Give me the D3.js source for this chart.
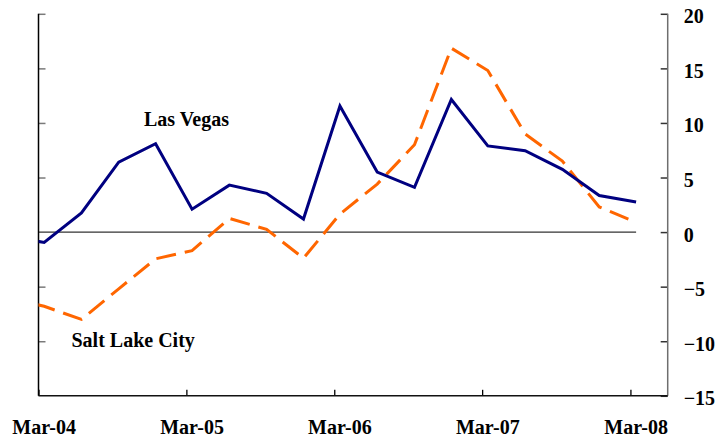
<!DOCTYPE html>
<html>
<head>
<meta charset="utf-8">
<script src="https://cdn.jsdelivr.net/npm/d3@7/dist/d3.min.js"></script>
<style>
  html, body { margin: 0; padding: 0; background: #fff; }
  svg { display: block; }
  text { font-family: "Liberation Serif", "Times New Roman", serif; font-weight: bold; fill: #000; }
</style>
</head>
<body>
<svg id="chart" width="727" height="440"></svg>
<script>
// Quarterly observations (mid-month of each quarter-end month), Dec-03 .. Mar-08
const quarters = [
  "2003-12-15",
  "2004-03-15", "2004-06-15", "2004-09-15", "2004-12-15",
  "2005-03-15", "2005-06-15", "2005-09-15", "2005-12-15",
  "2006-03-15", "2006-06-15", "2006-09-15", "2006-12-15",
  "2007-03-15", "2007-06-15", "2007-09-15", "2007-12-15",
  "2008-03-15"
];
const lasVegas = [
  -0.35,
  -0.95, 1.75, 6.4, 8.1,
  2.1, 4.3, 3.55, 1.2,
  11.55, 5.5, 4.1, 12.15,
  7.9, 7.45, 5.75, 3.35,
  2.75
];
const saltLakeCity = [
  -6.0,
  -6.8, -8.0, -5.2, -2.45,
  -1.7, 1.25, 0.25, -2.4,
  1.65, 4.4, 8.0, 16.85,
  14.8, 9.0, 6.5, 2.3,
  0.9
];
const yTicks = [20, 15, 10, 5, 0, -5, -10, -15];
const xTickDates = ["2004-03-01", "2005-03-01", "2006-03-01", "2007-03-01", "2008-03-01"];
const xLabels = ["Mar-04", "Mar-05", "Mar-06", "Mar-07", "Mar-08"];
const xLabelDates = ["2004-03-15", "2005-03-15", "2006-03-15", "2007-03-15", "2008-03-15"];

const parse = d3.timeParse("%Y-%m-%d");
const svg = d3.select("#chart");

const plotLeft = 38.5, plotRight = 667.7, plotTop = 13.8, plotBottom = 395.8;

const x = d3.scaleTime()
  .domain([parse("2004-03-01"), parse("2008-06-01")])
  .range([plotLeft, plotRight]);
const y = d3.scaleLinear()
  .domain([-15, 20])
  .range([plotBottom, plotTop]);

// Clip the series to the plotting area
svg.append("defs").append("clipPath").attr("id", "plot-clip")
  .append("rect")
  .attr("x", plotLeft).attr("y", plotTop)
  .attr("width", plotRight - plotLeft).attr("height", plotBottom - plotTop);

// Zero reference line
svg.append("line")
  .attr("x1", plotLeft).attr("x2", x(parse(quarters[quarters.length - 1])))
  .attr("y1", y(0)).attr("y2", y(0))
  .attr("stroke", "#333").attr("stroke-width", 1.2);

// Left axis: ticks only, pointing inward
const leftAxis = svg.append("g")
  .attr("transform", `translate(${plotLeft},0)`)
  .call(d3.axisLeft(y).tickValues(yTicks.filter(v => v !== 0 && v !== -15))
    .tickSize(-7).tickFormat(""));
leftAxis.select(".domain").remove();
leftAxis.selectAll(".tick line").attr("stroke", "#7a7a7a").attr("stroke-width", 1.5);
svg.append("line")
  .attr("x1", plotLeft).attr("x2", plotLeft).attr("y1", plotTop).attr("y2", plotBottom)
  .attr("stroke", "#000").attr("stroke-width", 1.5);

// Right axis with value labels
const rightAxis = svg.append("g")
  .attr("transform", `translate(${plotRight},0)`)
  .call(d3.axisRight(y).tickValues(yTicks).tickSize(-7).tickPadding(16)
    .tickFormat(d3.format("d")));
rightAxis.select(".domain").remove();
rightAxis.selectAll(".tick line").attr("stroke", "#333").attr("stroke-width", 1.5);
rightAxis.selectAll(".tick text")
  .attr("dy", "0.45em")
  .style("font-family", '"Liberation Serif", "Times New Roman", serif')
  .style("font-weight", "bold")
  .style("font-size", "20px")
  .attr("fill", "#000");
svg.append("line")
  .attr("x1", plotRight).attr("x2", plotRight).attr("y1", plotTop).attr("y2", plotBottom)
  .attr("stroke", "#6e6e6e").attr("stroke-width", 1.5);

// Bottom axis: ticks at each March, pointing up
const bottomAxis = svg.append("g")
  .attr("transform", `translate(0,${plotBottom})`)
  .call(d3.axisBottom(x).tickValues(xTickDates.map(parse)).tickSize(-6).tickFormat(""));
bottomAxis.select(".domain").remove();
bottomAxis.selectAll(".tick line").attr("stroke", "#000").attr("stroke-width", 1.3);
svg.append("line")
  .attr("x1", plotLeft).attr("x2", plotRight).attr("y1", plotBottom).attr("y2", plotBottom)
  .attr("stroke", "#111").attr("stroke-width", 1.6);

// Date labels under the axis
svg.append("g").selectAll("text")
  .data(xLabels)
  .join("text")
  .attr("x", (d, i) => x(parse(xLabelDates[i])))
  .attr("y", 433.5)
  .attr("text-anchor", "middle")
  .style("font-size", "20px")
  .text(d => d);

// Series lines
const lineFor = values => d3.line()
  .x((d, i) => x(parse(quarters[i])))
  .y(d => y(d))(values);

const plot = svg.append("g").attr("clip-path", "url(#plot-clip)");

plot.append("path")
  .attr("d", lineFor(saltLakeCity))
  .attr("fill", "none")
  .attr("stroke", "#ff6600")
  .attr("stroke-width", 3)
  .attr("stroke-dasharray", "20,9")
  .attr("stroke-linejoin", "miter");

plot.append("path")
  .attr("d", lineFor(lasVegas))
  .attr("fill", "none")
  .attr("stroke", "#000080")
  .attr("stroke-width", 3)
  .attr("stroke-linejoin", "miter");

// Series labels
svg.append("text").attr("x", 144).attr("y", 126).style("font-size", "20px").text("Las Vegas");
svg.append("text").attr("x", 71.5).attr("y", 346.7).style("font-size", "20px").text("Salt Lake City");
</script>
</body>
</html>
